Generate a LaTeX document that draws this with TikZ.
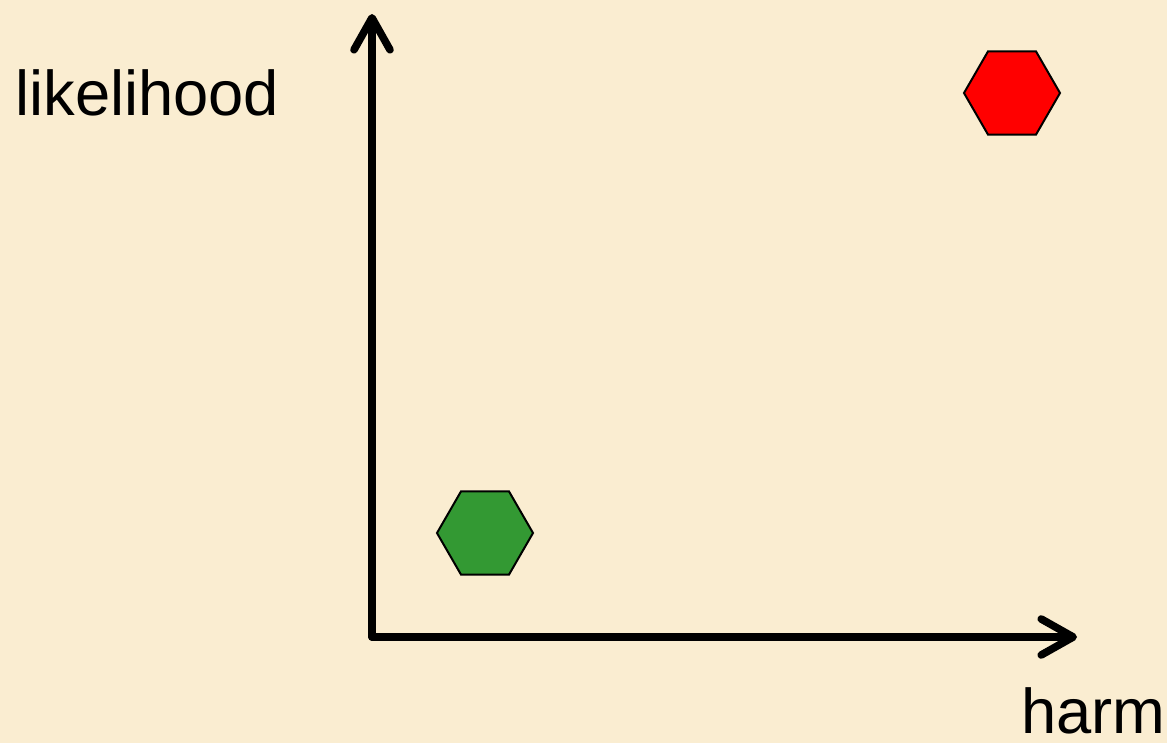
\documentclass[tikz,border=0pt]{standalone}
\usepackage{fontspec}
\setmainfont{Liberation Sans}
\usetikzlibrary{arrows.meta, positioning, shapes.geometric}
\definecolor{paper}{RGB}{250,237,209}
\definecolor{safe}{RGB}{51,153,51}

\begin{document}
\begin{tikzpicture}[
  x=0.025cm, y=-0.025cm,
  axis/.style={line width=1.9mm, line cap=round, -{Straight Barb[length=8mm, width=9mm, line cap=round, line join=round]}},
  hexa/.style={regular polygon, regular polygon sides=6, draw, line width=0.5mm, minimum size=2.4cm, inner sep=0pt},
  lbl/.style={font=\fontsize{45}{54}\selectfont, inner sep=0pt}
]
\fill[paper] (0,0) rectangle (1167,743);
\useasboundingbox (0,0) rectangle (1167,743);
\coordinate (origin) at (372,637);
\coordinate (ytip) at (372,14);
\coordinate (xtip) at (1077,637);
\node[lbl, anchor=base west] (lik) at (15,115) {likelihood};
\node[lbl, anchor=base west] (harm) at (1021,733) {harm};
\node[hexa, fill=red] (high) at (1012,93) {};
\node[hexa, fill=safe] (low) at (485,533) {};

\draw[axis] (origin) -- (ytip);
\draw[axis] (origin) -- (xtip);
\end{tikzpicture}
\end{document}
